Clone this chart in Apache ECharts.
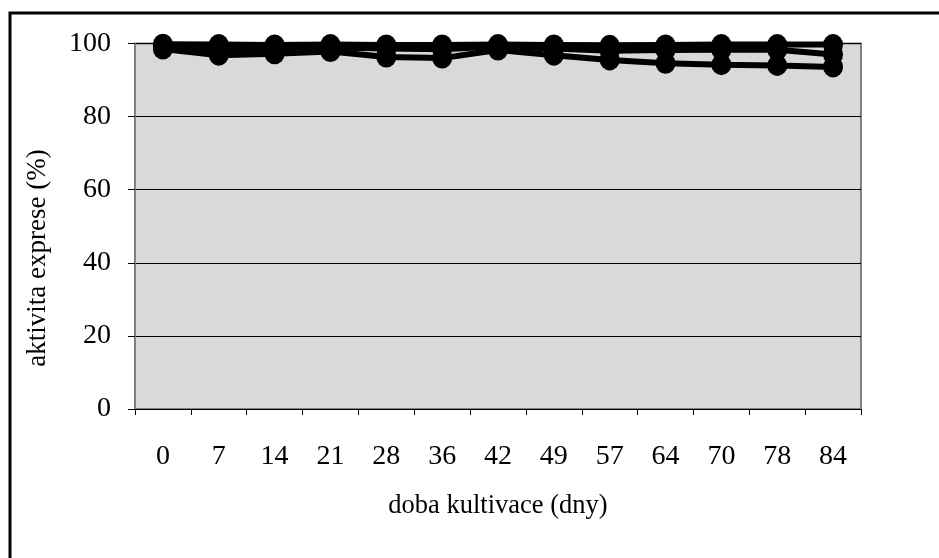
<!DOCTYPE html>
<html>
<head>
<meta charset="utf-8">
<script src="https://cdn.jsdelivr.net/npm/echarts@6/dist/echarts.min.js"></script>
<style>html,body{margin:0;padding:0;background:#fff;}#c{width:939px;height:558px;}</style>
</head>
<body>
<div id="c"></div>
<script>
const categories = ['0','7','14','21','28','36','42','49','57','64','70','78','84'];
const seriesA = [99.8, 99.7, 99.6, 99.7, 99.6, 99.6, 99.7, 99.6, 99.5, 99.6, 99.7, 99.7, 99.7];
const seriesB = [99.2, 98.3, 98.4, 98.9, 98.6, 98.4, 99.2, 98.6, 98.0, 98.2, 98.3, 98.3, 97.0];
const seriesC = [98.5, 96.8, 97.2, 97.8, 96.3, 96.0, 98.2, 96.8, 95.5, 94.6, 94.2, 94.0, 93.6];
const yTicks = [0, 20, 40, 60, 80, 100];
const xName = 'doba kultivace (dny)';
const yName = 'aktivita exprese (%)';

const font = '"Liberation Serif", "Times New Roman", serif';
const chart = echarts.init(document.getElementById('c'), null, {renderer: 'canvas'});
function mk(data) {
  return {
    type: 'line', data: data, symbol: 'circle', symbolSize: [20, 21],
    lineStyle: {color: '#000', width: 6}, itemStyle: {color: '#000'},
    animation: false, z: 5
  };
}
chart.setOption({
  animation: false,
  graphic: [{
    type: 'rect', shape: {x: 10, y: 13, width: 1200, height: 1000},
    style: {fill: 'none', stroke: '#000', lineWidth: 3}, silent: true, z: 100
  }, {
    type: 'text', x: 38, y: 258, rotation: Math.PI / 2,
    style: {text: yName, font: '27px ' + font, fill: '#000', align: 'center', verticalAlign: 'middle'},
    silent: true
  }],
  grid: {left: 135, right: 78, top: 43.5, bottom: 149, show: true, backgroundColor: '#d9d9d9', borderColor: '#808080', borderWidth: 2},
  xAxis: {
    type: 'category', data: categories, boundaryGap: true,
    name: xName, nameLocation: 'middle', nameGap: 84,
    nameTextStyle: {fontFamily: font, fontSize: 26.5, color: '#000'},
    axisLine: {lineStyle: {color: '#000', width: 1}},
    axisTick: {show: true, length: 6, lineStyle: {color: '#000'}},
    axisLabel: {fontFamily: font, fontSize: 28, color: '#000', margin: 34},
    splitLine: {show: false}
  },
  yAxis: {
    type: 'value', min: yTicks[0], max: yTicks[yTicks.length - 1], interval: 20,
    axisLine: {show: true, lineStyle: {color: '#808080', width: 1}},
    axisTick: {show: true, length: 7, lineStyle: {color: '#000'}},
    axisLabel: {fontFamily: font, fontSize: 28, color: '#000', margin: 24},
    splitLine: {show: true, lineStyle: {color: '#000', width: 1}}
  },
  series: [mk(seriesA), mk(seriesB), mk(seriesC)]
});
</script>
</body>
</html>
